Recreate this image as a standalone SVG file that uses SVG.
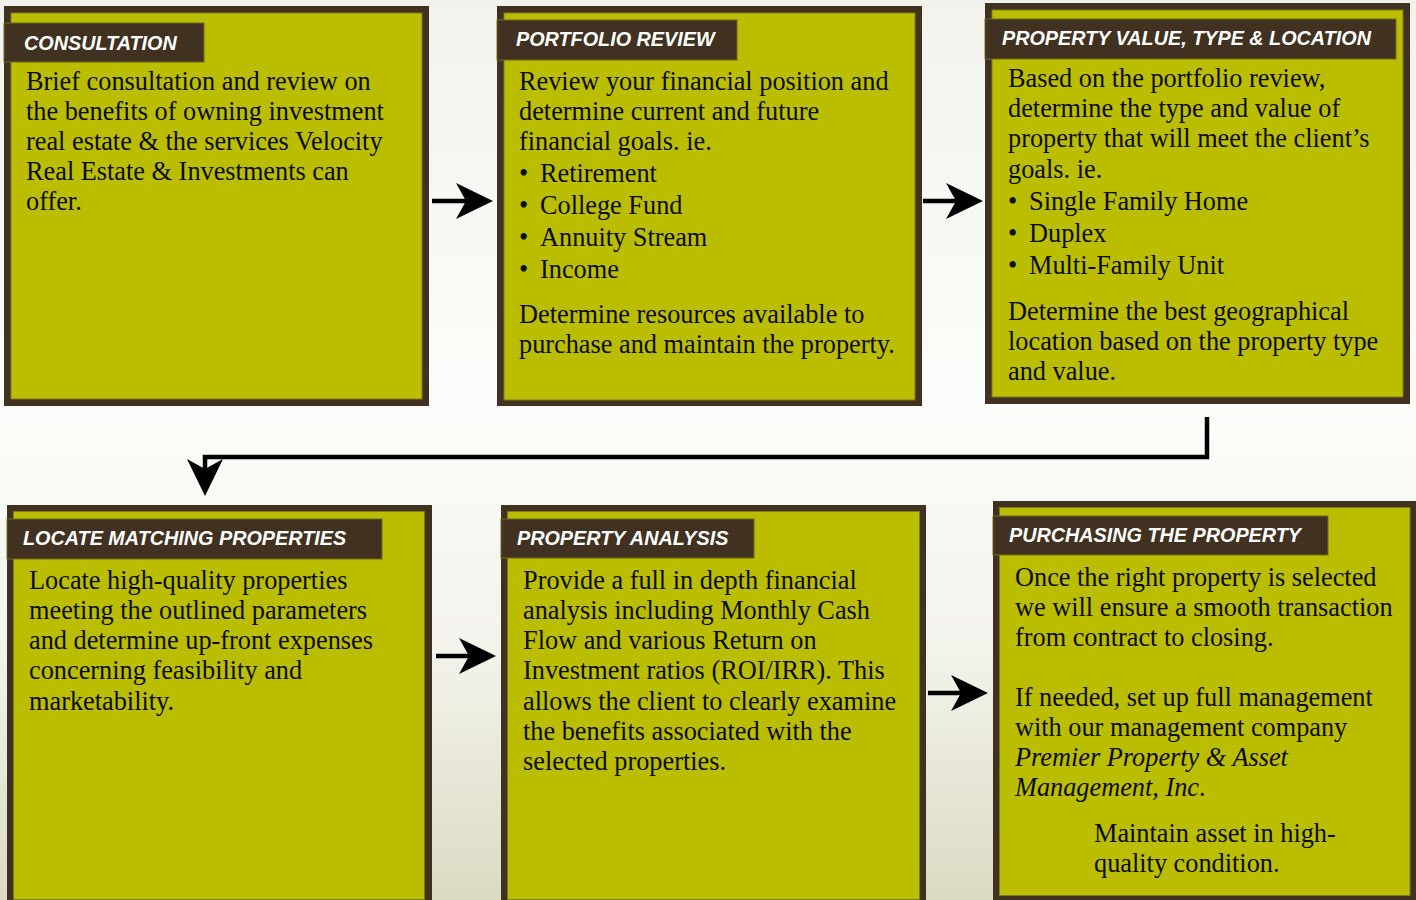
<svg xmlns="http://www.w3.org/2000/svg" width="1416" height="900" viewBox="0 0 1416 900">
<defs>
<linearGradient id="bg" x1="0" y1="0" x2="0" y2="1">
<stop offset="0" stop-color="#f2f2ed"/>
<stop offset="0.45" stop-color="#fcfcfa"/>
<stop offset="0.72" stop-color="#f3f3ec"/>
<stop offset="1" stop-color="#dcdac3"/>
</linearGradient>
<marker id="ah" viewBox="-18 -19 40 38" markerWidth="40" markerHeight="38" refX="0" refY="0" markerUnits="userSpaceOnUse" orient="auto">
<path d="M20,0 L-17,-18 L-7,0 L-17,18 Z" fill="#000"/>
</marker>
<style>
.outer{fill:#413121}
.inner{fill:#bbbd00;stroke:#7f7c18;stroke-width:1}
.tab{fill:#413121;stroke:#6f6a1c;stroke-width:1}
.hd{font-family:"Liberation Sans",Arial,sans-serif;font-weight:bold;font-style:italic;font-size:19.8px;fill:#ffffff}
.bd{font-family:"Liberation Serif","Times New Roman",serif;font-size:26.3px;fill:#0c0c00}
.it{font-style:italic}
.conn{fill:none;stroke:#000;stroke-width:4.5;stroke-linejoin:miter}
</style>
</defs>
<rect width="1416" height="900" fill="url(#bg)"/>

<g id="consultation">
<rect class="outer" x="4" y="6" width="425" height="400"/>
<rect class="inner" x="11" y="13" width="411" height="386"/>
<rect class="tab" x="4" y="23" width="200" height="39"/>
<text class="hd" x="24" y="50">CONSULTATION</text>
<text class="bd" x="26" y="90">Brief consultation and review on</text>
<text class="bd" x="26" y="120">the benefits of owning investment</text>
<text class="bd" x="26" y="150">real estate &amp; the services Velocity</text>
<text class="bd" x="26" y="180">Real Estate &amp; Investments can</text>
<text class="bd" x="26" y="210">offer.</text>
</g>

<g id="portfolio-review">
<rect class="outer" x="497" y="6" width="425" height="400"/>
<rect class="inner" x="504" y="13" width="411" height="387"/>
<rect class="tab" x="497" y="20" width="240" height="40"/>
<text class="hd" x="516" y="46">PORTFOLIO REVIEW</text>
<text class="bd" x="519" y="90">Review your financial position and</text>
<text class="bd" x="519" y="120">determine current and future</text>
<text class="bd" x="519" y="150">financial goals. ie.</text>
<text class="bd" x="519" y="182">•</text><text class="bd" x="540" y="182">Retirement</text>
<text class="bd" x="519" y="214">•</text><text class="bd" x="540" y="214">College Fund</text>
<text class="bd" x="519" y="246">•</text><text class="bd" x="540" y="246">Annuity Stream</text>
<text class="bd" x="519" y="278">•</text><text class="bd" x="540" y="278">Income</text>
<text class="bd" x="519" y="323">Determine resources available to</text>
<text class="bd" x="519" y="353">purchase and maintain the property.</text>
</g>

<g id="property-value">
<rect class="outer" x="985" y="3" width="425" height="401"/>
<rect class="inner" x="992" y="10" width="411" height="387"/>
<rect class="tab" x="985" y="19" width="411" height="40"/>
<text class="hd" x="1002" y="45">PROPERTY VALUE, TYPE &amp; LOCATION</text>
<text class="bd" x="1008" y="87">Based on the portfolio review,</text>
<text class="bd" x="1008" y="117">determine the type and value of</text>
<text class="bd" x="1008" y="147">property that will meet the client’s</text>
<text class="bd" x="1008" y="178">goals. ie.</text>
<text class="bd" x="1008" y="210">•</text><text class="bd" x="1029" y="210">Single Family Home</text>
<text class="bd" x="1008" y="242">•</text><text class="bd" x="1029" y="242">Duplex</text>
<text class="bd" x="1008" y="274">•</text><text class="bd" x="1029" y="274">Multi-Family Unit</text>
<text class="bd" x="1008" y="320">Determine the best geographical</text>
<text class="bd" x="1008" y="350">location based on the property type</text>
<text class="bd" x="1008" y="380">and value.</text>
</g>

<g id="locate-properties">
<rect class="outer" x="7" y="505" width="425" height="402"/>
<rect class="inner" x="13.5" y="511.5" width="411" height="388"/>
<rect class="tab" x="7" y="519" width="375" height="40"/>
<text class="hd" x="23" y="545">LOCATE MATCHING PROPERTIES</text>
<text class="bd" x="29" y="589">Locate high-quality properties</text>
<text class="bd" x="29" y="619">meeting the outlined parameters</text>
<text class="bd" x="29" y="649">and determine up-front expenses</text>
<text class="bd" x="29" y="679">concerning feasibility and</text>
<text class="bd" x="29" y="710">marketability.</text>
</g>

<g id="property-analysis">
<rect class="outer" x="501" y="505" width="425" height="402"/>
<rect class="inner" x="507.5" y="511.5" width="412" height="388"/>
<rect class="tab" x="501" y="519" width="253" height="39"/>
<text class="hd" x="517" y="545">PROPERTY ANALYSIS</text>
<text class="bd" x="523" y="589">Provide a full in depth financial</text>
<text class="bd" x="523" y="619">analysis including Monthly Cash</text>
<text class="bd" x="523" y="649">Flow and various Return on</text>
<text class="bd" x="523" y="679">Investment ratios (ROI/IRR). This</text>
<text class="bd" x="523" y="710">allows the client to clearly examine</text>
<text class="bd" x="523" y="740">the benefits associated with the</text>
<text class="bd" x="523" y="770">selected properties.</text>
</g>

<g id="purchasing">
<rect class="outer" x="993" y="501" width="425" height="402"/>
<rect class="inner" x="999.5" y="507.5" width="410.5" height="388"/>
<rect class="tab" x="993" y="516" width="335" height="39"/>
<text class="hd" x="1009" y="542">PURCHASING THE PROPERTY</text>
<text class="bd" x="1015" y="586">Once the right property is selected</text>
<text class="bd" x="1015" y="616">we will ensure a smooth transaction</text>
<text class="bd" x="1015" y="646">from contract to closing.</text>
<text class="bd" x="1015" y="706">If needed, set up full management</text>
<text class="bd" x="1015" y="736">with our management company</text>
<text class="bd it" x="1015" y="766">Premier Property &amp; Asset</text>
<text class="bd" x="1015" y="796"><tspan class="it">Management, Inc</tspan>.</text>
<text class="bd" x="1094" y="842">Maintain asset in high-</text>
<text class="bd" x="1094" y="872">quality condition.</text>
</g>

<g id="connectors">
<path class="conn" d="M432,201 H473" marker-end="url(#ah)"/>
<path class="conn" d="M923,201 H963" marker-end="url(#ah)"/>
<path class="conn" d="M436,656 H476" marker-end="url(#ah)"/>
<path class="conn" d="M928,693 H968" marker-end="url(#ah)"/>
<path class="conn" d="M1207,417 V457 H205 V476" marker-end="url(#ah)"/>
</g>
</svg>
